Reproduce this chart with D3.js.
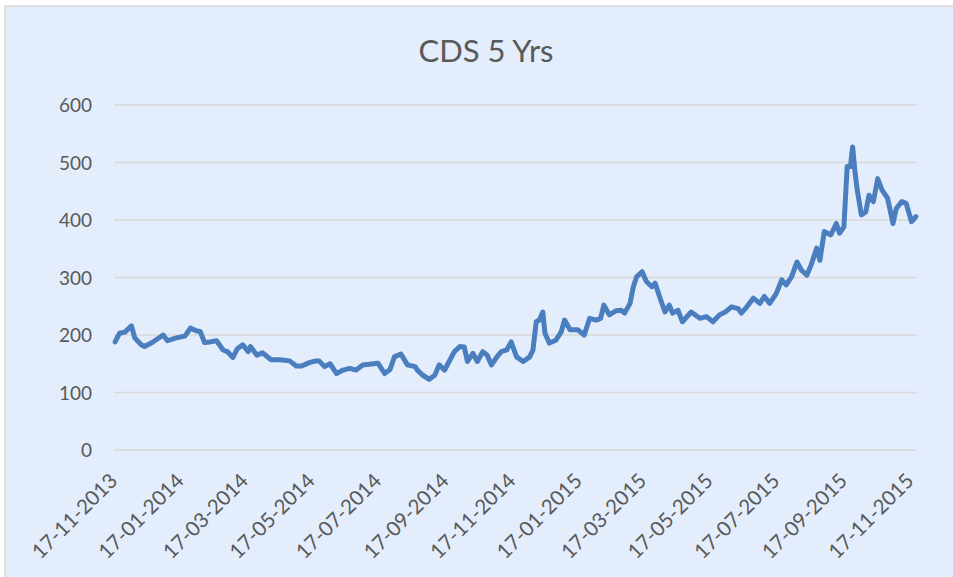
<!DOCTYPE html>
<html>
<head>
<meta charset="utf-8">
<script src="https://cdn.jsdelivr.net/npm/d3@7"></script>
<style>
  html, body { margin: 0; padding: 0; background: #ffffff; }
  svg { display: block; }
</style>
</head>
<body>
<svg id="chart" width="953" height="577"></svg>
<script>
const title = "CDS 5 Yrs";

const dates = [
  "2013-11-18","2013-11-22","2013-11-27","2013-12-03","2013-12-06","2013-12-12","2013-12-15","2013-12-22",
  "2014-01-01","2014-01-05","2014-01-13","2014-01-21","2014-01-26","2014-02-01","2014-02-04","2014-02-08",
  "2014-02-13","2014-02-19","2014-02-25","2014-03-01","2014-03-06","2014-03-10","2014-03-15","2014-03-20",
  "2014-03-22","2014-03-28","2014-04-02","2014-04-10","2014-04-18","2014-04-27","2014-05-03","2014-05-08",
  "2014-05-15","2014-05-21","2014-05-24","2014-05-29","2014-06-03","2014-06-09","2014-06-15","2014-06-21",
  "2014-06-27","2014-07-03","2014-07-09","2014-07-17","2014-07-23","2014-07-28","2014-08-01","2014-08-07",
  "2014-08-13","2014-08-20","2014-08-22","2014-08-27","2014-09-02","2014-09-07","2014-09-11","2014-09-16",
  "2014-09-21","2014-09-25","2014-09-30","2014-10-04","2014-10-07","2014-10-12","2014-10-16","2014-10-21",
  "2014-10-25","2014-10-29","2014-11-03","2014-11-07","2014-11-12","2014-11-16","2014-11-21","2014-11-27",
  "2014-12-03","2014-12-06","2014-12-09","2014-12-12","2014-12-15","2014-12-17","2014-12-21","2014-12-27",
  "2015-01-01","2015-01-04","2015-01-09","2015-01-16","2015-01-22","2015-01-27","2015-02-02","2015-02-06",
  "2015-02-09","2015-02-14","2015-02-20","2015-02-25","2015-02-28","2015-03-05","2015-03-08","2015-03-11",
  "2015-03-16","2015-03-20","2015-03-25","2015-03-28","2015-04-01","2015-04-06","2015-04-10","2015-04-13",
  "2015-04-18","2015-04-22","2015-04-30","2015-05-08","2015-05-14","2015-05-20","2015-05-26","2015-06-01",
  "2015-06-06","2015-06-12","2015-06-15","2015-06-20","2015-06-26","2015-07-02","2015-07-06","2015-07-11",
  "2015-07-17","2015-07-22","2015-07-26","2015-07-31","2015-08-05","2015-08-09","2015-08-14","2015-08-18",
  "2015-08-23","2015-08-26","2015-08-30","2015-09-05","2015-09-10","2015-09-13","2015-09-17","2015-09-20",
  "2015-09-23","2015-09-25","2015-09-27","2015-09-29","2015-10-03","2015-10-07","2015-10-10","2015-10-14",
  "2015-10-18","2015-10-22","2015-10-27","2015-11-01","2015-11-04","2015-11-09","2015-11-13","2015-11-18",
  "2015-11-22"
];

const cds = [
  188,203,205,216,195,183,180,187,
  200,190,195,198,212,207,206,187,
  188,190,174,171,161,176,183,171,
  180,165,169,157,157,155,146,146,
  152,155,155,145,150,133,139,142,
  139,148,149,151,133,140,162,167,
  148,145,139,130,123,130,148,139,
  157,171,180,179,154,168,154,171,
  165,148,162,171,174,188,162,154,
  162,174,223,226,240,203,186,191,
  206,226,209,209,200,229,226,229,
  252,235,242,243,238,255,284,301,
  310,293,284,290,267,240,252,238,
  243,223,240,229,232,223,235,241,
  249,246,238,249,264,255,267,255,
  272,296,287,301,327,313,304,322,
  351,330,380,374,394,377,388,493,
  493,527,487,455,409,414,443,432,
  472,452,438,394,420,432,429,397,
  406
];

const yTicks = [0, 100, 200, 300, 400, 500, 600];
const xTickLabels = [
  "17-11-2013","17-01-2014","17-03-2014","17-05-2014","17-07-2014","17-09-2014","17-11-2014",
  "17-01-2015","17-03-2015","17-05-2015","17-07-2015","17-09-2015","17-11-2015"
];
const domainStart = "2013-11-17";
const domainEnd = "2015-11-23";

const parse = d3.timeParse("%Y-%m-%d");
const parseLabel = d3.timeParse("%d-%m-%Y");
const data = dates.map((d, i) => ({ date: parse(d), value: cds[i] }));

const svg = d3.select("#chart");
const W = 953, H = 577;
const plot = { left: 114, right: 917, top: 105, bottom: 450 };
const textColor = "#595959";
const font = "Lato, 'Open Sans', sans-serif";

// background with border on top/left
svg.append("rect").attr("x", 0).attr("y", 0).attr("width", W).attr("height", H).attr("fill", "#ffffff");
svg.append("rect").attr("x", 5).attr("y", 6).attr("width", W - 5).attr("height", H - 6)
  .attr("fill", "#E3EDFC");
svg.append("line").attr("x1", 5).attr("x2", W).attr("y1", 6).attr("y2", 6)
  .attr("stroke", "#D9D9D9").attr("stroke-width", 1.5);
svg.append("line").attr("x1", 5).attr("x2", 5).attr("y1", 6).attr("y2", H)
  .attr("stroke", "#D9D9D9").attr("stroke-width", 1.5);

const x = d3.scaleTime()
  .domain([parse(domainStart), parse(domainEnd)])
  .range([plot.left, plot.right]);
const y = d3.scaleLinear().domain([0, 600]).range([plot.bottom, plot.top]);

// gridlines
svg.append("g").selectAll("line").data(yTicks).join("line")
  .attr("x1", plot.left).attr("x2", plot.right)
  .attr("y1", d => y(d)).attr("y2", d => y(d))
  .attr("stroke", "#D9D9D9").attr("stroke-width", 1.5);

// y axis labels
const yAxis = d3.axisLeft(y).tickValues(yTicks).tickSize(0).tickPadding(0);
const gy = svg.append("g").attr("transform", `translate(92,0)`).call(yAxis);
gy.select(".domain").remove();
gy.selectAll("text").attr("fill", textColor).attr("font-family", font).attr("font-size", 19)
  .attr("dy", "0.35em");

// x axis labels
const xAxis = d3.axisBottom(x).tickValues(xTickLabels.map(parseLabel))
  .tickFormat(d3.timeFormat("%d-%m-%Y")).tickSize(0).tickPadding(0);
const gx = svg.append("g").attr("transform", `translate(0,${plot.bottom})`).call(xAxis);
gx.select(".domain").remove();
gx.selectAll("text")
  .attr("fill", textColor).attr("font-family", font).attr("font-size", 20.5)
  .attr("text-anchor", "end")
  .attr("y", 0).attr("dy", "0.35em")
  .attr("transform", "translate(-1,27) rotate(-45)");

// title
svg.append("text").attr("x", 486).attr("y", 62).attr("text-anchor", "middle")
  .attr("fill", textColor).attr("font-family", font).attr("font-size", 31)
  .text(title);

// line
const line = d3.line().x(d => x(d.date)).y(d => y(d.value)).curve(d3.curveLinear);
svg.append("path").datum(data)
  .attr("d", line)
  .attr("fill", "none")
  .attr("stroke", "#4A7EBF")
  .attr("stroke-width", 5)
  .attr("stroke-linejoin", "round")
  .attr("stroke-linecap", "round");
</script>
</body>
</html>
